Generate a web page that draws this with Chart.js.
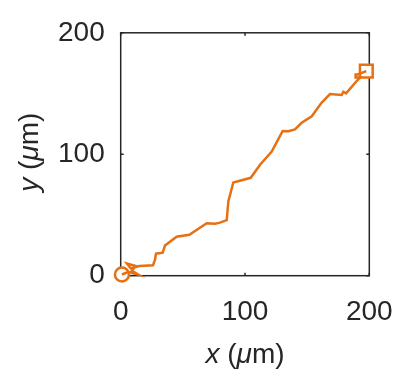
<!DOCTYPE html>
<html>
<head>
<meta charset="utf-8">
<script src="https://cdn.jsdelivr.net/npm/chart.js@4"></script>
<style>
  html, body { margin: 0; padding: 0; background: #fff; }
</style>
</head>
<body>
<canvas id="trackChart" width="417" height="369"></canvas>
<script>
// cell track, positions in µm
const trackX = [1, 6, 14, 9, 12, 5, 8, 15, 26, 27.6, 28.4, 33.8, 35.6, 45, 55.2, 69.2, 75.9, 79.9, 85.3, 86.6,
  90.6, 104.6, 112.1, 121.5, 130.3, 134.9, 140.2, 145.6, 153.7, 161.7, 168.4, 177.8, 179.1, 181.3, 190.4,
  192.5, 189, 189, 190.6, 197.6];
const trackY = [1, 3, 1, 4, 8, 10, 6, 8, 8.6, 13.2, 18.1, 18.9, 24.8, 32.1, 33.7, 43.2, 42.8, 43.7, 45.8, 61.2,
  76.8, 80.6, 91.4, 102.2, 119.2, 118.9, 120.5, 125.9, 131.3, 142.6, 149.6, 148.8, 151.5, 150.1, 160.9,
  163.1, 163.1, 165.7, 165.7, 168.5];
const startPoint = [1, 1];
const endPoint = [197.6, 168.5];
const xTicks = [0, 100, 200];
const yTicks = [0, 100, 200];

const lineColor = "#e67012";
const axisColor = "#262626";
const fontFamily = "'Liberation Sans', Arial, sans-serif";

const trackPoints = trackX.map((x, i) => ({ x: x, y: trackY[i] }));

function drawMixed(ctx, parts, size) {
  let total = 0;
  parts.forEach(p => {
    ctx.font = (p.italic ? "italic " : "") + size + "px " + fontFamily;
    p.w = ctx.measureText(p.t).width;
    total += p.w;
  });
  let pos = -total / 2;
  parts.forEach(p => {
    ctx.font = (p.italic ? "italic " : "") + size + "px " + fontFamily;
    ctx.fillText(p.t, pos, 0);
    pos += p.w;
  });
}

const xTitle = [{ t: "x", italic: true }, { t: " (", italic: false }, { t: "\u03bc", italic: true }, { t: "m)", italic: false }];
const yTitle = [{ t: "y", italic: true }, { t: " (", italic: false }, { t: "\u03bc", italic: true }, { t: "m)", italic: false }];

const axisBox = {
  id: "axisBox",
  beforeDatasetsDraw(chart) {
    const { ctx, chartArea: a, scales } = chart;
    ctx.save();
    ctx.strokeStyle = axisColor;
    ctx.lineWidth = 1.5;
    ctx.strokeRect(a.left, a.top, a.right - a.left, a.bottom - a.top);
    ctx.beginPath();
    xTicks.forEach(v => {
      const px = scales.x.getPixelForValue(v);
      ctx.moveTo(px, a.bottom); ctx.lineTo(px, a.bottom - 3);
      ctx.moveTo(px, a.top); ctx.lineTo(px, a.top + 3);
    });
    yTicks.forEach(v => {
      const py = scales.y.getPixelForValue(v);
      ctx.moveTo(a.left, py); ctx.lineTo(a.left + 3, py);
      ctx.moveTo(a.right, py); ctx.lineTo(a.right - 3, py);
    });
    ctx.stroke();
    ctx.restore();
  },
  afterDraw(chart) {
    const { ctx, chartArea: a } = chart;
    ctx.save();
    ctx.fillStyle = axisColor;
    ctx.textBaseline = "middle";
    ctx.textAlign = "left";
    ctx.translate((a.left + a.right) / 2, 355);
    drawMixed(ctx, xTitle, 28);
    ctx.restore();
    ctx.save();
    ctx.fillStyle = axisColor;
    ctx.textBaseline = "middle";
    ctx.textAlign = "left";
    ctx.translate(30, (a.top + a.bottom) / 2 - 2);
    ctx.rotate(-Math.PI / 2);
    drawMixed(ctx, yTitle, 28);
    ctx.restore();
  }
};

new Chart(document.getElementById("trackChart"), {
  type: "scatter",
  data: {
    datasets: [
      {
        data: trackPoints,
        showLine: true,
        borderColor: lineColor,
        borderWidth: 2.5,
        pointRadius: 0,
        clip: false,
      },
      {
        data: [{ x: startPoint[0], y: startPoint[1] }],
        pointStyle: "circle",
        pointRadius: 7,
        borderWidth: 2.5,
        borderColor: lineColor,
        backgroundColor: "#fff",
        clip: false,
      },
      {
        data: [{ x: endPoint[0], y: endPoint[1] }],
        pointStyle: "rect",
        pointRadius: 9,
        borderWidth: 2.5,
        borderColor: lineColor,
        backgroundColor: "#fff",
        clip: false,
      },
    ],
  },
  plugins: [axisBox],
  options: {
    responsive: false,
    animation: false,
    layout: { padding: { left: 0, right: 47.7, top: 28.3, bottom: 0 } },
    scales: {
      x: {
        type: "linear",
        min: 0,
        max: 200,
        afterBuildTicks: s => { s.ticks = xTicks.map(v => ({ value: v })); },
        afterFit: s => { s.height = 93.3; },
        grid: { display: false, drawTicks: false },
        border: { display: false },
        ticks: { padding: 20, color: axisColor, font: { size: 28, family: fontFamily } },
      },
      y: {
        type: "linear",
        min: 0,
        max: 200,
        afterBuildTicks: s => { s.ticks = yTicks.map(v => ({ value: v })); },
        afterFit: s => { s.width = 120.7; },
        grid: { display: false, drawTicks: false },
        border: { display: false },
        ticks: { padding: 16, color: axisColor, font: { size: 28, family: fontFamily } },
      },
    },
    plugins: {
      legend: { display: false },
      tooltip: { enabled: false },
    },
  },
});
</script>
</body>
</html>
